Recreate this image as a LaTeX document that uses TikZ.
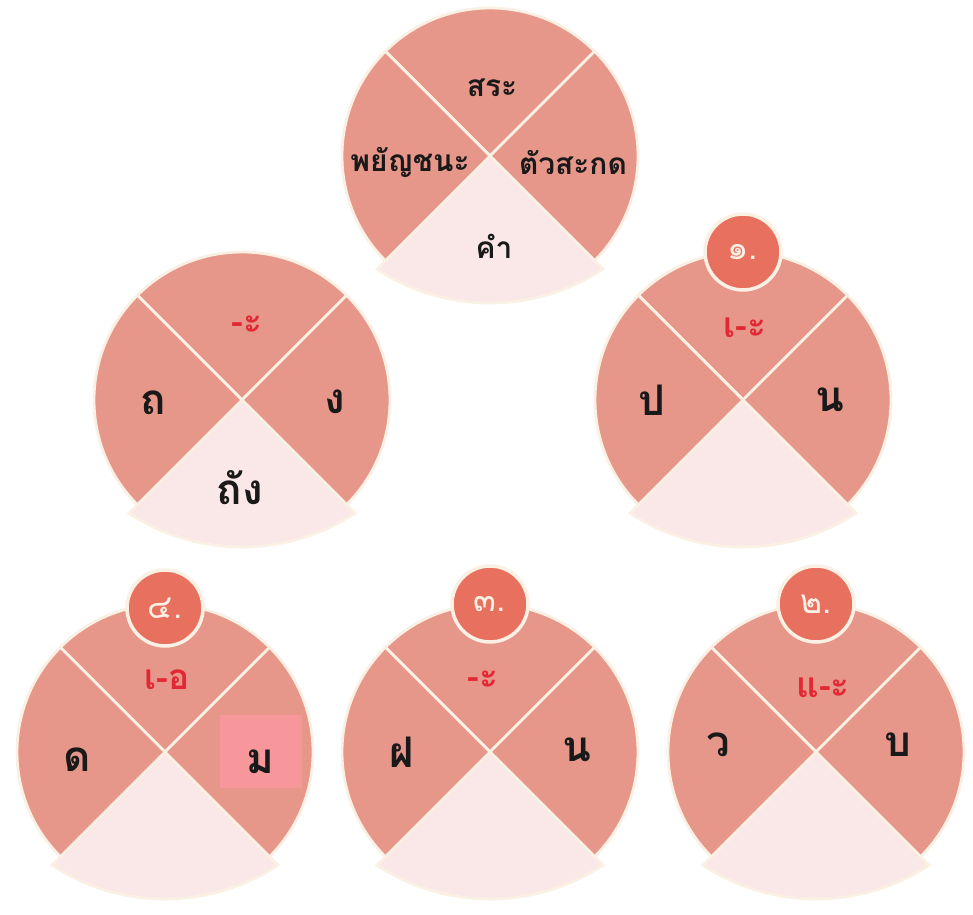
\documentclass[tikz,border=0pt]{standalone}
\usepackage{fontspec}
\setmainfont[Script=Thai]{Loma}
\definecolor{lachs}{RGB}{231,150,138}
\definecolor{rosa}{RGB}{250,231,231}
\definecolor{koralle}{RGB}{232,112,94}
\definecolor{creme}{RGB}{251,240,228}
\definecolor{rot}{RGB}{226,40,52}
\definecolor{markiert}{RGB}{247,150,155}
\tikzset{
  dunkel/.style={fill=lachs,draw=creme,line width=1.6pt},
  hell/.style={fill=rosa,draw=creme,line width=1.6pt},
  badge/.style={circle,fill=koralle,draw=creme,line width=2pt,minimum size=1.52cm,inner sep=0pt,text=creme,font=\fontsize{19}{22}\selectfont},
  gross/.style={font=\fontsize{24}{28}\selectfont\bfseries,text=black!90},
  mittel/.style={font=\fontsize{17}{20}\selectfont\bfseries,text=black!90},
  vokal/.style={font=\fontsize{20}{24}\selectfont\bfseries,text=rot}
}
% Rad: Mittelpunkt (#1) bei #2
\newcommand{\wheel}[2]{%
  \coordinate (#1) at (#2);
  \filldraw[hell] (#1) -- ++(225:160) arc[start angle=236.7,end angle=303.3,radius=206] -- cycle;
  \filldraw[dunkel] (#1) -- ++(45:148) arc[start angle=45,end angle=135,radius=148] -- cycle;
  \filldraw[dunkel] (#1) -- ++(135:148) arc[start angle=135,end angle=225,radius=148] -- cycle;
  \filldraw[dunkel] (#1) -- ++(-45:148) arc[start angle=-45,end angle=45,radius=148] -- cycle;
}
\begin{document}
\begin{tikzpicture}[x=0.02cm,y=0.02cm]
\fill[white] (0,0) rectangle (973,915);
\useasboundingbox (0,0) rectangle (973,915);

% Raeder
\wheel{w0}{490,759}
\wheel{w5}{242,515}
\wheel{w1}{743,515}
\wheel{w4}{165,163}
\wheel{w3}{490,163}
\wheel{w2}{816,163}

% Markierung
\fill[markiert] (220,200) rectangle (302,127);

% Nummern
\node[badge] (n1) at (743,663) {๑.};
\node[badge] (n2) at (816,311) {๒.};
\node[badge] (n3) at (490,311) {๓.};
\node[badge] (n4) at (165,307) {๔.};

% Texte
\node[mittel] (w0-vowel) at (492,827) {สระ};
\node[mittel] (w0-init) at (410,752) {พยัญชนะ};
\node[mittel] (w0-final) at (573,752) {ตัวสะกด};
\node[mittel] (w0-word) at (494,669) {คำ};

\node[vokal] (w5-vowel) at (247,590) {-ะ};
\node[gross] (w5-init) at (153,512) {ถ};
\node[gross] (w5-final) at (335,513) {ง};
\node[gross] (w5-word) at (240,427) {ถัง};

\node[vokal] (w1-vowel) at (745,587) {เ-ะ};
\node[gross] (w1-init) at (652,515) {ป};
\node[gross] (w1-final) at (830,515) {น};

\node[vokal] (w4-vowel) at (167,235) {เ-อ};
\node[gross] (w4-init) at (77,155) {ด};
\node[gross] (w4-final) at (260,153) {ม};

\node[vokal] (w3-vowel) at (483,235) {-ะ};
\node[gross] (w3-init) at (402,163) {ฝ};
\node[gross] (w3-final) at (577,165) {น};

\node[vokal] (w2-vowel) at (823,227) {แ-ะ};
\node[gross] (w2-init) at (718,170) {ว};
\node[gross] (w2-final) at (898,170) {บ};
\end{tikzpicture}
\end{document}
